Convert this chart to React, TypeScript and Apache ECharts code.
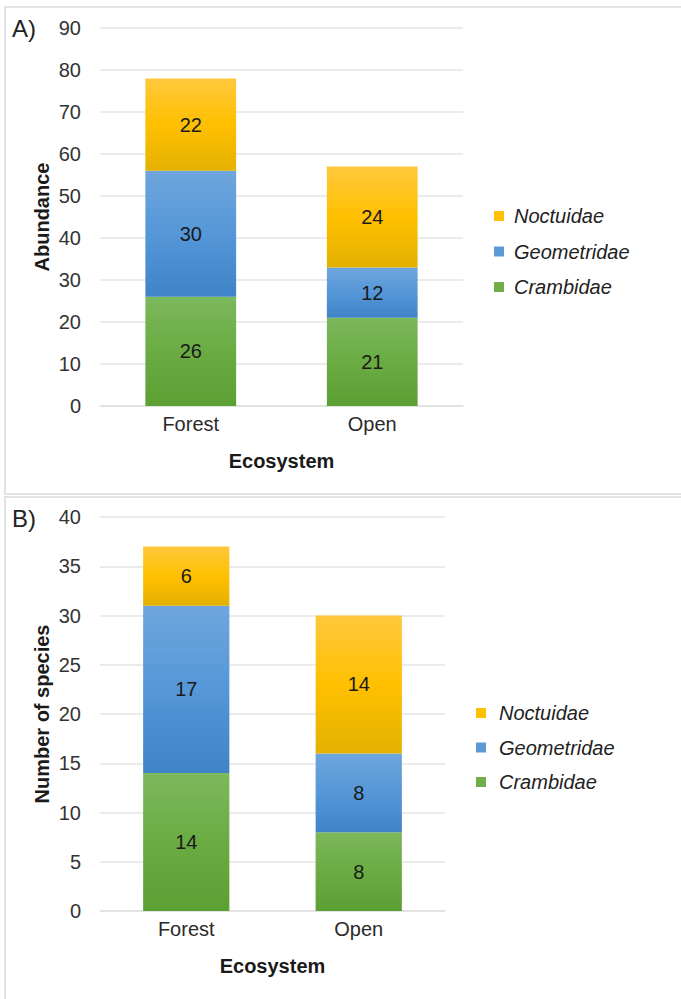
import React, { useEffect, useRef } from "react";
import * as echarts from "echarts";

// Ecosystem categories shared by both panels
const categories = ["Forest", "Open"];

// Panel A: abundance per family
const abundanceCrambidae = [26, 21];
const abundanceGeometridae = [30, 12];
const abundanceNoctuidae = [22, 24];

// Panel B: number of species per family
const speciesCrambidae = [14, 8];
const speciesGeometridae = [17, 8];
const speciesNoctuidae = [6, 14];

const familyNames = ["Noctuidae", "Geometridae", "Crambidae"];

const FONT = "'Liberation Sans', Arial, Helvetica, sans-serif";
const FS = 20;

const grad = (top: string, mid: string, bottom: string) =>
  new echarts.graphic.LinearGradient(0, 0, 0, 1, [
    { offset: 0, color: top },
    { offset: 0.5, color: mid },
    { offset: 1, color: bottom },
  ]);

const familyFill: Record<string, () => any> = {
  Noctuidae: () => grad("#ffc83d", "#ffc000", "#e4b100"),
  Geometridae: () => grad("#6fa6dd", "#5597d8", "#3f83c8"),
  Crambidae: () => grad("#7cb85c", "#6aac43", "#5c9f33"),
};
const familySolid: Record<string, string> = {
  Noctuidae: "#ffc000",
  Geometridae: "#5b9bd5",
  Crambidae: "#70ad47",
};

const makeSeries = (name: string, data: number[], idx: number, stack: string) => ({
  name,
  type: "bar",
  stack,
  xAxisIndex: idx,
  yAxisIndex: idx,
  barWidth: "50%",
  data,
  itemStyle: { color: familyFill[name]() },
  label: {
    show: true,
    position: "inside",
    fontSize: FS,
    fontFamily: FONT,
    color: "#1a1a1a",
  },
  emphasis: { disabled: true },
});

export default function App() {
  const ref = useRef<HTMLDivElement>(null);

  useEffect(() => {
    if (!ref.current) return;
    const chart = echarts.init(ref.current, undefined, { renderer: "svg" });

    const valueAxis = (idx: number, max: number, interval: number, name: string) => ({
      type: "value",
      gridIndex: idx,
      min: 0,
      max,
      interval,
      name,
      nameLocation: "middle",
      nameGap: 48,
      nameMoveOverlap: false,
      nameTextStyle: { fontSize: FS, fontWeight: "bold", color: "#1a1a1a", fontFamily: FONT },
      axisLine: { show: false },
      axisTick: { show: false },
      axisLabel: { fontSize: FS, color: "#333", margin: 19, fontFamily: FONT },
      splitLine: { lineStyle: { color: "#e4e4e4", width: 1.5 } },
    });

    const categoryAxis = (idx: number) => ({
      type: "category",
      gridIndex: idx,
      data: categories,
      name: "Ecosystem",
      nameLocation: "middle",
      nameGap: 45,
      nameMoveOverlap: false,
      nameTextStyle: { fontSize: FS, fontWeight: "bold", color: "#1a1a1a", fontFamily: FONT },
      axisLine: { lineStyle: { color: "#e0e0e0", width: 1.5 } },
      axisTick: { show: false },
      axisLabel: { fontSize: FS, color: "#2a2a2a", margin: 8, fontFamily: FONT },
    });

    const legend = (left: number, top: number, gap: number, pad: number) => ({
      orient: "vertical",
      left,
      top,
      itemWidth: 10,
      itemHeight: 10,
      itemGap: gap,
      icon: "rect",
      selectedMode: false,
      data: familyNames.map((n) => ({ name: n, itemStyle: { color: familySolid[n] } })),
      textStyle: {
        fontSize: FS,
        fontStyle: "italic",
        color: "#222",
        fontFamily: FONT,
        padding: [0, 0, 0, pad],
      },
    });

    chart.setOption({
      animation: false,
      backgroundColor: "#ffffff",
      textStyle: { fontFamily: FONT },
      grid: [
        { left: 100, right: 218, top: 28, bottom: 593 },
        { left: 100, right: 236, top: 517, bottom: 88 },
      ],
      xAxis: [categoryAxis(0), categoryAxis(1)],
      yAxis: [valueAxis(0, 90, 10, "Abundance"), valueAxis(1, 40, 5, "Number of species")],
      legend: [legend(489, 201, 15.5, 5), legend(471, 698, 14.5, 8)],
      series: [
        makeSeries("Crambidae", abundanceCrambidae, 0, "a"),
        makeSeries("Geometridae", abundanceGeometridae, 0, "a"),
        makeSeries("Noctuidae", abundanceNoctuidae, 0, "a"),
        makeSeries("Crambidae", speciesCrambidae, 1, "b"),
        makeSeries("Geometridae", speciesGeometridae, 1, "b"),
        makeSeries("Noctuidae", speciesNoctuidae, 1, "b"),
      ],
      graphic: [
        {
          type: "rect",
          shape: { x: 5, y: 7, width: 700, height: 487 },
          style: { fill: "none", stroke: "#e2e2e2", lineWidth: 2 },
          z: -1,
        },
        {
          type: "rect",
          shape: { x: 5, y: 497, width: 700, height: 520 },
          style: { fill: "none", stroke: "#e2e2e2", lineWidth: 2 },
          z: -1,
        },
        {
          type: "text",
          x: 12,
          y: 28,
          style: { text: "A)", fontSize: 24, fill: "#222", fontFamily: FONT, verticalAlign: "middle" },
        },
        {
          type: "text",
          x: 12,
          y: 518,
          style: { text: "B)", fontSize: 24, fill: "#222", fontFamily: FONT, verticalAlign: "middle" },
        },
      ],
    });

    return () => chart.dispose();
  }, []);

  return (
    <div
      ref={ref}
      style={{ position: "absolute", left: 0, top: 0, width: 681, height: 999, background: "#fff" }}
    />
  );
}
